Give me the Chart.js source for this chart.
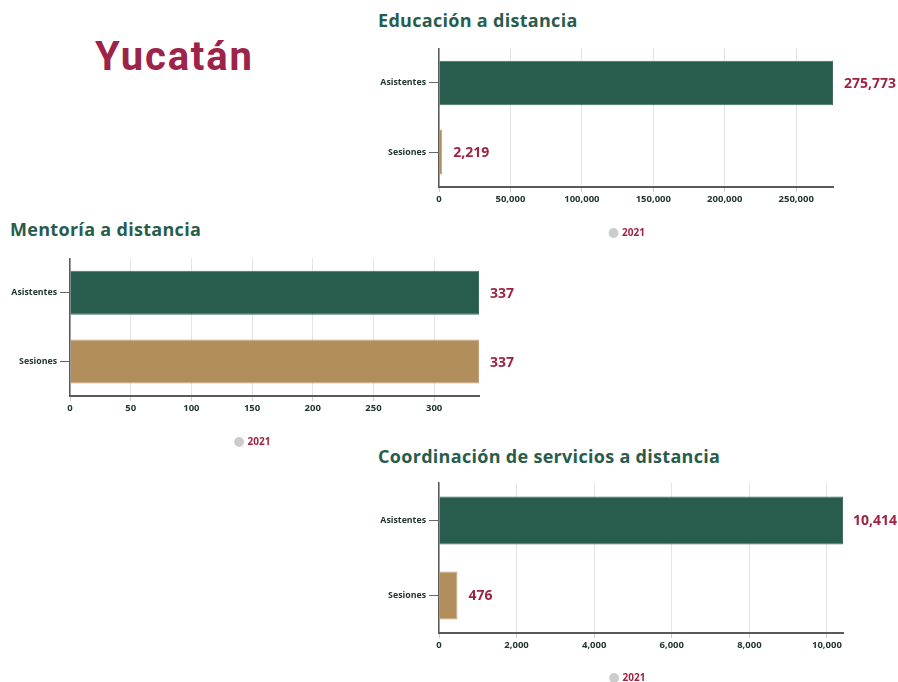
<!DOCTYPE html>
<html>
<head>
<meta charset="utf-8">
<script src="https://cdn.jsdelivr.net/npm/chart.js@4.4.1/dist/chart.umd.min.js"></script>
<style>
  html, body { margin: 0; padding: 0; background: #fff; width: 898px; height: 682px; overflow: hidden; }
  body { position: relative; font-family: "Open Sans", sans-serif; }
  .title { position: absolute; font-weight: 700; color: #285c4d; font-size: 18px; letter-spacing: 0.3px;
           line-height: 1; white-space: nowrap; }
  #state { position: absolute; left: 95px; top: 37px; font-family: Roboto, sans-serif; font-weight: 700;
           font-size: 40px; letter-spacing: 1.8px; line-height: 1; color: #9d2449; white-space: nowrap; }
  .box { position: absolute; }
</style>
</head>
<body>
<div id="state">Yucatán</div>
<div class="title" style="left:378px; top:11px;">Educación a distancia</div>
<div class="title" style="left:10px; top:220px;">Mentoría a distancia</div>
<div class="title" style="left:378px; top:447px;">Coordinación de servicios a distancia</div>

<div class="box" style="left:370px; top:40px; width:528px; height:210px;"><canvas id="educacion"></canvas></div>
<div class="box" style="left:0px; top:250px; width:540px; height:207px;"><canvas id="mentoria"></canvas></div>
<div class="box" style="left:370px; top:470px; width:528px; height:223px;"><canvas id="coordinacion"></canvas></div>

<script>
// Categories and values for each program
const categories = ['Asistentes', 'Sesiones'];
const educacionValues = [275773, 2219];
const mentoriaValues = [337, 337];
const coordinacionValues = [10414, 476];
const yearLabel = '2021';

const GREEN = '#285c4d';
const GOLD = '#b38e5d';
const CRIMSON = '#9f2241';
const TEXT = '#22362e';

const fmt = v => Number(v).toLocaleString('en-US');

// Writes each bar's value just past its end, kept inside the canvas
const valueLabels = {
  id: 'valueLabels',
  afterDatasetsDraw(chart) {
    const ctx = chart.ctx;
    const ds = chart.data.datasets[0];
    const meta = chart.getDatasetMeta(0);
    ctx.save();
    ctx.font = '700 14px "Open Sans", sans-serif';
    ctx.fillStyle = CRIMSON;
    ctx.textBaseline = 'middle';
    ctx.textAlign = 'left';
    meta.data.forEach((bar, i) => {
      const txt = fmt(ds.data[i]);
      const w = ctx.measureText(txt).width;
      const x = Math.min(bar.x + 11, chart.width - w - 1);
      ctx.fillText(txt, x, bar.y + 1);
    });
    ctx.restore();
  }
};

function buildChart(id, values, step, opts) {
  return new Chart(document.getElementById(id), {
    type: 'bar',
    data: {
      labels: categories,
      datasets: [{
        label: yearLabel,
        data: values,
        backgroundColor: [GREEN, GOLD],
        borderColor: ['#3f6e60', '#c4a37a'],
        borderWidth: 1,
        categoryPercentage: 0.8,
        barPercentage: 0.8
      }]
    },
    options: {
      indexAxis: 'y',
      responsive: true,
      maintainAspectRatio: false,
      animation: false,
      events: [],
      layout: { padding: opts.padding },
      scales: {
        x: {
          bounds: 'data',
          beginAtZero: true,
          // the axis ends at the largest value; ticks sit on round steps below it
          afterBuildTicks: s => {
            const ticks = [];
            for (let v = 0; v <= s.max; v += step) ticks.push({ value: v });
            s.ticks = ticks;
          },
          afterFit: s => { s.height = opts.xHeight; },
          grid: { color: '#e4e4e4', lineWidth: 1, tickLength: 5, tickColor: '#cfcfcf' },
          border: { display: true, color: '#5a5a5a', width: 2 },
          ticks: {
            autoSkip: false,
            padding: 2,
            color: TEXT,
            font: { family: '"Open Sans", sans-serif', size: 9.5, weight: '700' },
            callback: v => fmt(v)
          }
        },
        y: {
          afterFit: s => { s.width = opts.yWidth; },
          grid: { offset: false, drawOnChartArea: false, tickLength: 10, color: '#5f6b66', lineWidth: 1 },
          border: { display: true, color: '#5a5a5a', width: 1.5 },
          ticks: {
            padding: 3,
            color: TEXT,
            font: { family: '"Open Sans", sans-serif', size: 8.8, weight: '700' }
          }
        },
        // empty band on the right that holds the value labels
        gutter: {
          type: 'category',
          axis: 'y',
          position: 'right',
          grid: { display: false },
          border: { display: false },
          ticks: { display: false },
          afterFit: s => { s.width = opts.gutter; }
        }
      },
      plugins: {
        tooltip: { enabled: false },
        legend: {
          display: true,
          position: 'bottom',
          align: 'center',
          onClick: null,
          labels: {
            usePointStyle: true,
            boxWidth: 7,
            boxHeight: 7,
            padding: 0,
            color: CRIMSON,
            font: { family: '"Open Sans", sans-serif', size: 10, weight: '700' },
            generateLabels: () => [{
              text: yearLabel,
              fillStyle: '#cccccc',
              strokeStyle: '#cccccc',
              lineWidth: 0,
              pointStyle: 'circle',
              fontColor: CRIMSON,
              hidden: false,
              datasetIndex: 0
            }]
          }
        }
      }
    },
    plugins: [valueLabels]
  });
}

buildChart('educacion', educacionValues, 50000, {
  padding: { left: 0, right: 13, top: 8, bottom: 2 }, yWidth: 69, gutter: 52, xHeight: 41
});
buildChart('mentoria', mentoriaValues, 50, {
  padding: { left: 0, right: 34, top: 8, bottom: 0 }, yWidth: 70, gutter: 27, xHeight: 41
});
buildChart('coordinacion', coordinacionValues, 2000, {
  padding: { left: 0, right: 12, top: 13, bottom: 0 }, yWidth: 69, gutter: 43, xHeight: 40
});
</script>
</body>
</html>
